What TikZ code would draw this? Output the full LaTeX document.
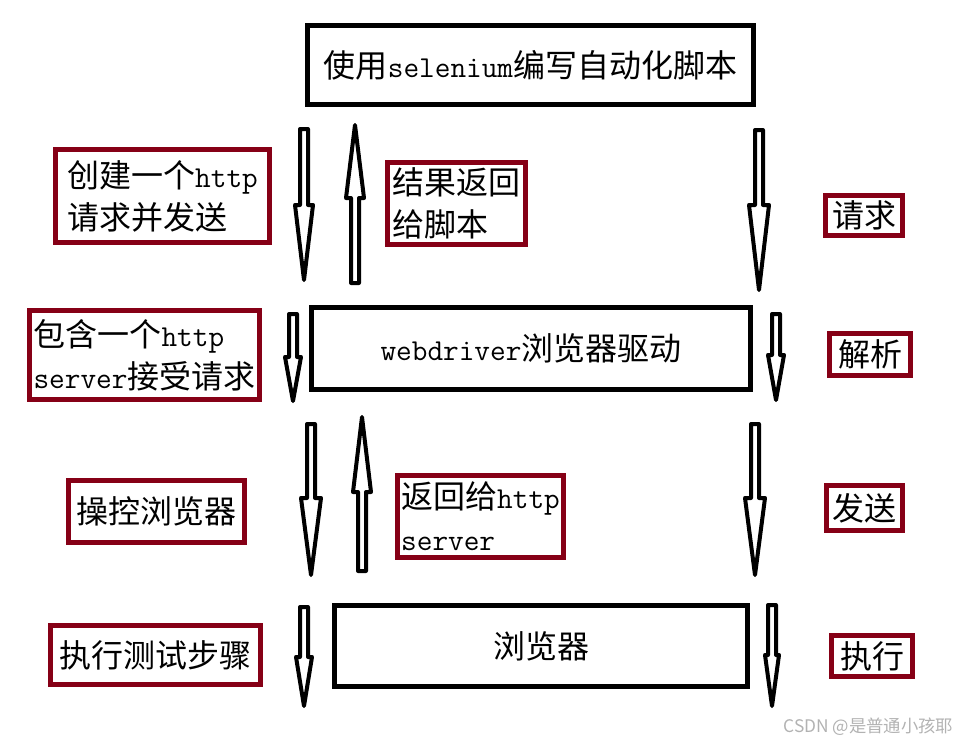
\documentclass[tikz,border=0pt]{standalone}
\usepackage{fontspec}
\setmonofont{Latin Modern Mono}[Scale=0.95]
\newfontfamily\cjk{Noto Sans CJK SC}
\usetikzlibrary{positioning}
\definecolor{boxred}{RGB}{134,0,22}
\newcommand{\lat}[1]{{\ttfamily #1}}
% x, tail, head base, tip, head half width
\newcommand{\blockarrow}[5]{%
  \draw[blockarrow] (#1-4,#2) -- (#1+4,#2) -- (#1+4,#3) -- (#1+#5,#3) -- (#1,#4)
    -- (#1-#5,#3) -- (#1-4,#3) -- cycle;}
\tikzset{
  blackbox/.style={draw=black, line width=3.75pt, inner sep=0pt,
    font=\cjk\fontsize{24}{31.5}\selectfont},
  redbox/.style={draw=boxred, line width=3.75pt, inner sep=0pt, align=left,
    font=\cjk\fontsize{24}{31.5}\selectfont},
  blockarrow/.style={draw=black, line width=3pt, line join=round, fill=white}
}
\begin{document}
\begin{tikzpicture}[x=0.75pt, y=-0.75pt]
\useasboundingbox (0,0) rectangle (966,746);
% main boxes
\node[blackbox, minimum width=446*0.75pt, minimum height=79*0.75pt] (script) at (530.5,65) {使用\lat{selenium}编写自动化脚本};
\node[blackbox, minimum width=439*0.75pt, minimum height=82*0.75pt] (driver) at (531,348.5) {\lat{webdriver}浏览器驱动};
\node[blackbox, minimum width=413*0.75pt, minimum height=81*0.75pt] (browser) at (541,646) {浏览器};
% labels
\node[redbox, minimum width=214*0.75pt, minimum height=93*0.75pt] (create) at (162.5,196) {创建一个\lat{http}\\请求并发送};
\node[redbox, minimum width=138*0.75pt, minimum height=82*0.75pt] (result) at (456.5,203.5) {结果返回\\给脚本};
\node[redbox, minimum width=77*0.75pt, minimum height=40*0.75pt] (request) at (864,215.5) {请求};
\node[redbox, minimum width=230*0.75pt, minimum height=89*0.75pt] (server) at (144.5,355) {包含一个\lat{http}\\\lat{server}接受请求};
\node[redbox, minimum width=81*0.75pt, minimum height=42*0.75pt] (parse) at (870,354.5) {解析};
\node[redbox, minimum width=176*0.75pt, minimum height=62*0.75pt] (control) at (156.5,511.5) {操控浏览器};
\node[redbox, minimum width=166*0.75pt, minimum height=82*0.75pt] (back) at (480.5,516.5) {返回给\lat{http}\\\lat{server}};
\node[redbox, minimum width=76*0.75pt, minimum height=45*0.75pt] (send) at (864.5,508) {发送};
\node[redbox, minimum width=210*0.75pt, minimum height=59*0.75pt] (steps) at (155.5,655) {执行测试步骤};
\node[redbox, minimum width=81*0.75pt, minimum height=41*0.75pt] (run) at (872,656) {执行};
% block arrows
\blockarrow{304}{129}{205}{280}{9}
\blockarrow{355}{283}{198}{125}{9}
\blockarrow{759}{130}{205}{290}{10}
\blockarrow{293}{314}{357}{401}{8}
\blockarrow{776}{314}{355}{400}{8}
\blockarrow{311}{424}{498}{575}{10}
\blockarrow{362}{571}{492}{417}{9}
\blockarrow{755}{424}{498}{575}{10}
\blockarrow{304}{607}{657}{706}{8}
\blockarrow{772}{605}{655}{706}{7}
% watermark
\node[anchor=east, text=gray!60, font=\cjk\fontsize{13}{15}\selectfont] (mark) at (958,727) {CSDN @是普通小孩耶};
\end{tikzpicture}
\end{document}
